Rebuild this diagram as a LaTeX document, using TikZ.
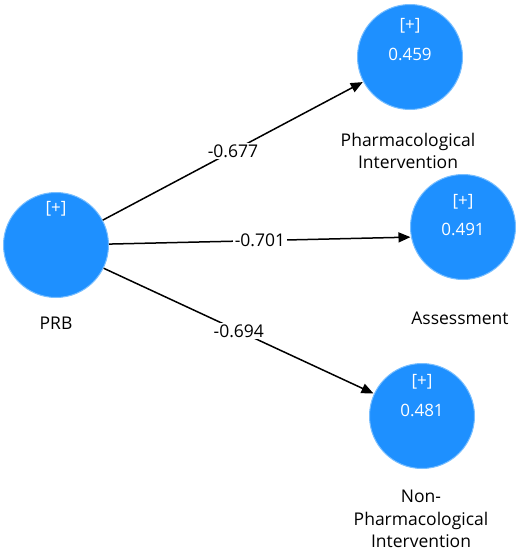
\documentclass[tikz,border=0pt]{standalone}
\usepackage{fontspec}
\setmainfont{Open Sans}
\usetikzlibrary{arrows.meta}
\definecolor{lvblue}{RGB}{30,144,255}
\definecolor{lvedge}{RGB}{120,190,255}
\begin{document}
\begin{tikzpicture}[x=1pt,y=-1pt,
  lv/.style={circle,fill=lvblue,draw=lvedge,line width=1pt,minimum size=105pt,inner sep=0pt},
  intxt/.style={text=white,font=\fontsize{17}{20}\selectfont,inner sep=0pt},
  lbl/.style={font=\fontsize{17.5}{22.5}\selectfont,align=center,inner sep=0pt},
  path/.style={line width=1.5pt,-{Triangle[length=12pt,width=10pt]},shorten >=0.5pt},
  coef/.style={fill=white,font=\fontsize{17.5}{20}\selectfont,inner sep=1.5pt}]
\useasboundingbox (0,0) rectangle (519,554);
\node[lv] (prb) at (56,245) {};
\node[intxt] (prbp) at (56,209) {[+]};
\node[lbl] (prbl) at (56,323) {PRB};

\node[lv] (ph) at (410,57) {};
\node[intxt] (php) at (410,26) {[+]};
\node[intxt] (phv) at (410,54) {0.459};
\node[lbl] (phl) at (408,151) {Pharmacological\\Intervention};

\node[lv] (as) at (463,227) {};
\node[intxt] (asp) at (463,202) {[+]};
\node[intxt] (asv) at (463,229) {0.491};
\node[lbl] (asl) at (460,318) {Assessment};

\node[lv] (np) at (422,416) {};
\node[intxt] (npp) at (422,382) {[+]};
\node[intxt] (npv) at (422,410) {0.481};
\node[lbl] (npl) at (421,519) {Non-\\Pharmacological\\Intervention};

\draw[path] (prb.{28}) -- node[coef,pos=0.5] {-0.677} (ph);
\draw[path] (prb.{1}) -- node[coef,pos=0.5] {-0.701} (as.{191});
\draw[path] (prb.{-26}) -- node[coef,pos=0.5] {-0.694} (np);
\end{tikzpicture}
\end{document}
